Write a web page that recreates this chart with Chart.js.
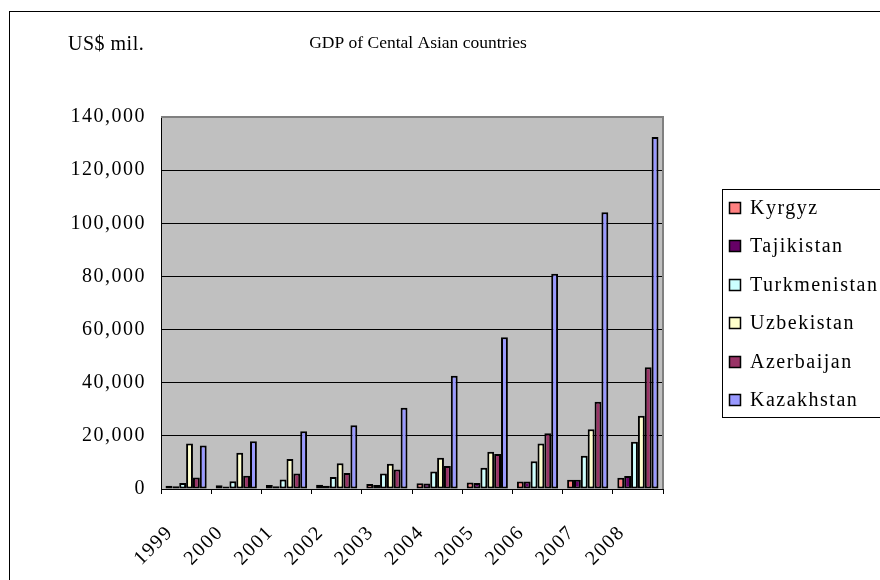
<!DOCTYPE html>
<html>
<head>
<meta charset="utf-8">
<script src="https://cdn.jsdelivr.net/npm/chart.js@4/dist/chart.umd.min.js"></script>
<style>
  html, body { margin: 0; padding: 0; background: #ffffff; }
  canvas { display: block; }
</style>
</head>
<body>
<canvas id="gdp" width="880" height="580"></canvas>
<script>
// Years on the category axis
const years = ['1999', '2000', '2001', '2002', '2003', '2004', '2005', '2006', '2007', '2008'];

// GDP, US$ millions
const kyrgyz       = [1200, 1400, 1500, 1600, 1900, 2200, 2400, 2800, 3500, 4200];
const tajikistan   = [1000,  900, 1000, 1200, 1500, 2100, 2300, 2800, 3500, 4900];
const turkmenistan = [2300, 2900, 3600, 4500, 5800, 6600, 8000, 10400, 12500, 17800];
const uzbekistan   = [17100, 13600, 11300, 9700, 9500, 11800, 14000, 17100, 22500, 27600];
const azerbaijan   = [4300, 5000, 5800, 6000, 7300, 8700, 13200, 21000, 32800, 45800];
const kazakhstan   = [16400, 18000, 21700, 24000, 30600, 42600, 57100, 81000, 104200, 132500];

// Value axis tick labels
const yTicks = [0, 20000, 40000, 60000, 80000, 100000, 120000, 140000];

const seriesNames  = ['Kyrgyz', 'Tajikistan', 'Turkmenistan', 'Uzbekistan', 'Azerbaijan', 'Kazakhstan'];
const seriesValues = [kyrgyz, tajikistan, turkmenistan, uzbekistan, azerbaijan, kazakhstan];
const seriesColors = ['#FF8080', '#660066', '#CCFFFF', '#FFFFCC', '#993366', '#9999FF'];

const SERIF = "'Liberation Serif', 'Times New Roman', serif";
const TEXT_SPACING = '1.5px';

// Background, outer frame and grey plot area; wide lettering for axis text
const backdrop = {
  id: 'backdrop',
  beforeDraw(chart) {
    const { ctx, chartArea: a } = chart;
    ctx.save();
    ctx.fillStyle = '#ffffff';
    ctx.fillRect(0, 0, chart.width, chart.height);
    ctx.strokeStyle = '#000000';
    ctx.lineWidth = 1;
    ctx.strokeRect(9.5, 11.5, chart.width + 10, chart.height + 10);
    ctx.fillStyle = '#C0C0C0';
    ctx.fillRect(a.left, a.top, a.right - a.left, a.bottom - a.top);
    ctx.restore();
    ctx.letterSpacing = TEXT_SPACING;
  }
};

// Plot frame, titles and the boxed legend
const annotations = {
  id: 'annotations',
  afterDraw(chart) {
    const { ctx, chartArea: a } = chart;
    ctx.save();
    ctx.strokeStyle = '#808080';
    ctx.lineWidth = 2;
    ctx.beginPath();
    ctx.moveTo(a.left, a.top);
    ctx.lineTo(a.right, a.top);
    ctx.lineTo(a.right, a.bottom);
    ctx.stroke();

    ctx.fillStyle = '#000000';
    ctx.textBaseline = 'alphabetic';
    ctx.textAlign = 'center';
    ctx.letterSpacing = '0px';
    ctx.font = '17.5px ' + SERIF;
    ctx.fillText('GDP of Cental Asian countries', 418, 48);
    ctx.textAlign = 'left';
    ctx.letterSpacing = '0.5px';
    ctx.font = '20px ' + SERIF;
    ctx.fillText('US$ mil.', 68, 50);

    // legend
    ctx.strokeStyle = '#000000';
    ctx.lineWidth = 1;
    ctx.strokeRect(722.5, 189.5, 200, 228);
    ctx.textBaseline = 'middle';
    ctx.letterSpacing = TEXT_SPACING;
    ctx.font = '20px ' + SERIF;
    chart.data.datasets.forEach((ds, i) => {
      const cy = Math.round(208 + i * 38.4);
      ctx.fillStyle = ds.backgroundColor;
      ctx.fillRect(729, cy - 6, 12, 12);
      ctx.lineWidth = 1.5;
      ctx.strokeRect(729.5, cy - 5.5, 11, 11);
      ctx.fillStyle = '#000000';
      ctx.fillText(ds.label, 750, cy + 1);
    });
    ctx.restore();
    ctx.letterSpacing = '0px';
  }
};

new Chart(document.getElementById('gdp'), {
  type: 'bar',
  data: {
    labels: years,
    datasets: seriesNames.map((name, i) => ({
      label: name,
      data: seriesValues[i],
      backgroundColor: seriesColors[i],
      borderColor: '#000000',
      borderWidth: 2,
      borderSkipped: false,
      barPercentage: 1.0,
      categoryPercentage: 0.82
    }))
  },
  options: {
    responsive: false,
    animation: false,
    devicePixelRatio: 1,
    layout: { padding: { top: 117, right: 217, bottom: 0, left: 0 } },
    plugins: {
      legend: { display: false },
      title: { display: false },
      tooltip: { enabled: false }
    },
    scales: {
      x: {
        offset: true,
        afterFit(s) { s.height = 91; },
        grid: {
          display: true,
          drawOnChartArea: false,
          drawTicks: true,
          tickLength: 5,
          color: '#000000',
          lineWidth: 1
        },
        border: { color: '#000000', width: 1 },
        ticks: {
          color: '#000000',
          font: { family: SERIF, size: 20 },
          minRotation: 45,
          maxRotation: 45,
          autoSkip: false,
          labelOffset: -16,
          padding: 27
        }
      },
      y: {
        min: 0,
        max: 140000,
        afterFit(s) { s.width = 161; },
        afterBuildTicks(s) { s.ticks = yTicks.map(v => ({ value: v })); },
        grid: {
          drawTicks: false,
          color: c => (c.tick && c.tick.value === 140000 ? 'rgba(0,0,0,0)' : '#000000'),
          lineWidth: 1
        },
        border: { color: '#000000', width: 1 },
        ticks: {
          color: '#000000',
          font: { family: SERIF, size: 20 },
          padding: 15,
          callback: v => Number(v).toLocaleString('en-US')
        }
      }
    }
  },
  plugins: [backdrop, annotations]
});
</script>
</body>
</html>
